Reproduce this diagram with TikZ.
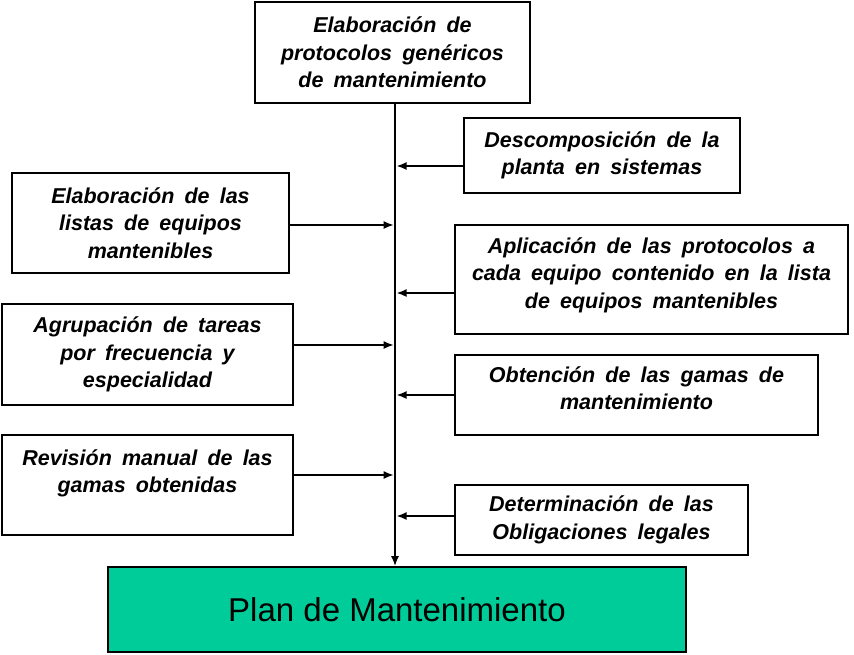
\documentclass[tikz,border=0pt]{standalone}
\usepackage{fontspec}
\setmainfont{Liberation Sans}
\newfontfamily\boxfont[WordSpace=1.7]{Liberation Sans}
\usetikzlibrary{arrows.meta}
\definecolor{plangreen}{RGB}{0,204,153}
\tikzset{
  box/.style={draw=black, line width=1.6pt, fill=white, inner sep=0pt, align=center,
    font=\boxfont\fontsize{21.5}{27.5}\selectfont\bfseries\itshape},
  planbox/.style={draw=black, line width=1.6pt, fill=plangreen, inner sep=0pt,
    font=\fontsize{33}{36}\selectfont},
  arrthin/.style={line width=1.1pt, -{Latex[length=10pt,width=8pt]}},
  arrthick/.style={line width=1.8pt, -{Latex[length=10pt,width=8pt]}},
  trunk/.style={line width=1.8pt, -{Latex[length=10pt,width=8pt]}}
}
\begin{document}
\begin{tikzpicture}[x=1pt,y=-1pt]
\useasboundingbox (0,0) rectangle (854,654);
\node[box, minimum width=275pt, minimum height=101pt] (top) at (392.5,52.5)
  {Elaboración de\\protocolos genéricos\\de mantenimiento};
\node[box, minimum width=276pt, minimum height=75pt] (desc) at (602,155.5)
  {Descomposición de la\\planta en sistemas};
\node[box, minimum width=277pt, minimum height=100pt] (listas) at (150.5,223)
  {Elaboración de las\\listas de equipos\\mantenibles};
\node[box, minimum width=393pt, minimum height=109pt] (aplic) at (651.5,279.5)
  {Aplicación de las protocolos a\\cada equipo contenido en la lista\\de equipos mantenibles\\[-14pt]\mbox{}};
\node[box, minimum width=291pt, minimum height=101pt] (agrup) at (147.5,354.5)
  {Agrupación de tareas\\por frecuencia y\\especialidad};
\node[box, minimum width=363pt, minimum height=80pt] (obten) at (636.5,395)
  {Obtención de las gamas de\\mantenimiento\\[-14pt]\mbox{}};
\node[box, minimum width=291pt, minimum height=100pt] (revis) at (147.5,485)
  {Revisión manual de las\\gamas obtenidas\\\mbox{}};
\node[box, minimum width=293pt, minimum height=70pt] (deter) at (601.5,520)
  {Determinación de las\\Obligaciones legales};
\node[planbox, minimum width=578pt, minimum height=85pt] (plan) at (397,609.5)
  {Plan de Mantenimiento};

\coordinate (t0) at (395,103);
\draw[trunk] (top.south -| t0) -- (plan.north -| t0);

\coordinate (a1) at (396.5,166);
\coordinate (a2) at (393.5,225);
\coordinate (a3) at (396.5,293);
\coordinate (a4) at (393.5,345);
\coordinate (a5) at (396.5,395);
\coordinate (a6) at (393.5,475);
\coordinate (a7) at (396.5,516);
\draw[arrthick] (desc.west |- a1) -- (a1);
\draw[arrthin] (listas.east |- a2) -- (a2);
\draw[arrthick] (aplic.west |- a3) -- (a3);
\draw[arrthin] (agrup.east |- a4) -- (a4);
\draw[arrthick] (obten.west |- a5) -- (a5);
\draw[arrthin] (revis.east |- a6) -- (a6);
\draw[arrthick] (deter.west |- a7) -- (a7);
\end{tikzpicture}
\end{document}
